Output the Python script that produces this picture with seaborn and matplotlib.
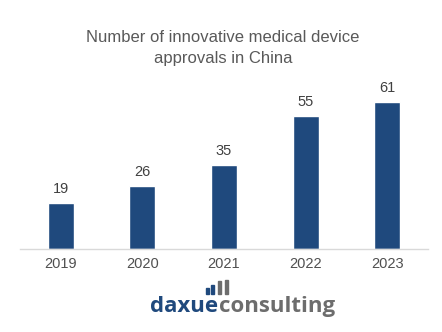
import matplotlib
matplotlib.use("Agg")
import matplotlib.pyplot as plt
from matplotlib.patches import Rectangle
import seaborn as sns
import pandas as pd

years = ["2019", "2020", "2021", "2022", "2023"]
approvals = [19, 26, 35, 55, 61]
title = "Number of innovative medical device\napprovals in China"

sns.set_theme(style="white")
plt.rcParams["font.family"] = ["Liberation Sans", "DejaVu Sans"]

df = pd.DataFrame({"year": years, "approvals": approvals})

W, H = 442, 332
fig = plt.figure(figsize=(W / 100, H / 100), dpi=100)
ax = fig.add_axes([20 / W, 83 / H, 408 / W, 170 / H])

sns.barplot(data=df, x="year", y="approvals", color="#1F497D",
            saturation=1, width=0.32, ax=ax)
ax.set_xlim(-0.5, len(years) - 0.5)
ax.set_ylim(0, 70.5)

for patch, v in zip(ax.patches, approvals):
    ax.annotate(str(v), (patch.get_x() + patch.get_width() / 2, v),
                xytext=(0, 5), textcoords="offset points",
                ha="center", va="bottom", fontsize=10.5, color="#404040")

ax.set_xlabel("")
ax.set_ylabel("")
ax.set_yticks([])
ax.tick_params(axis="x", length=0, pad=6, labelsize=10.5, labelcolor="#505050")
for side in ["top", "right", "left"]:
    ax.spines[side].set_visible(False)
ax.spines["bottom"].set_color("#D9D9D9")
ax.spines["bottom"].set_linewidth(1)

fig.text(223 / W, 1 - 48 / H, title, ha="center", va="center",
         fontsize=12, color="#595959", linespacing=1.45)

# brand mark
fig.text(218.5 / W, 1 - 312 / H, "daxue", ha="right", va="baseline",
         fontsize=16, fontweight="bold", color="#1F497D",
         family=["Open Sans", "DejaVu Sans"])
fig.text(218.5 / W, 1 - 312 / H, "consulting", ha="left", va="baseline",
         fontsize=16, fontweight="bold", color="#6D6D6D",
         family=["Open Sans", "DejaVu Sans"])
for x0, top, c in [(206, 288, "#1F497D"), (211, 285, "#1F497D"),
                   (218, 281, "#6D6D6D"), (225, 279.5, "#6D6D6D")]:
    fig.patches.append(Rectangle((x0 / W, (H - 294) / H), 3 / W, (294 - top) / H,
                                 transform=fig.transFigure, color=c))

fig.savefig("out.png", dpi=100, facecolor="white")
